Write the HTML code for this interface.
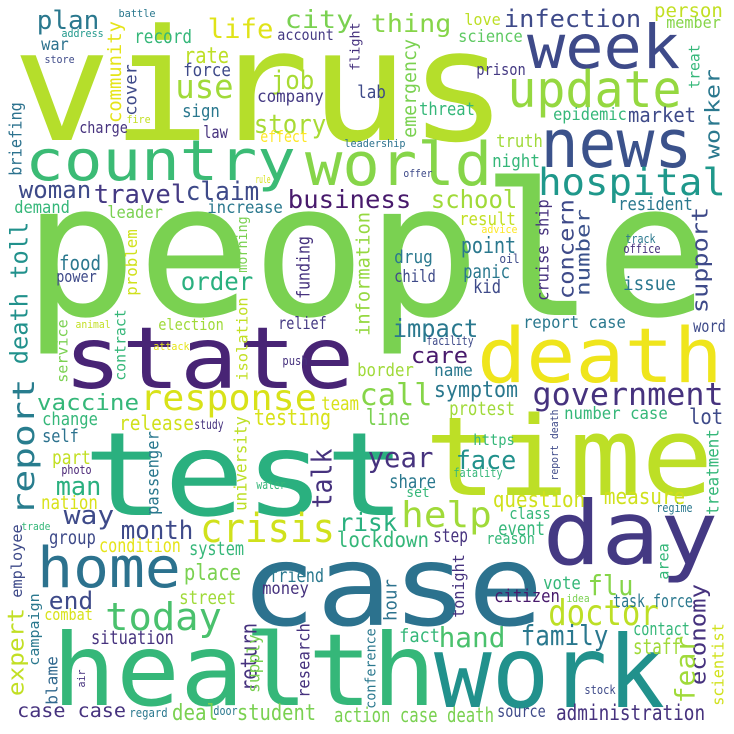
<!DOCTYPE html>
<html><head><meta charset="utf-8"><title>Word cloud</title>
<style>
html,body{margin:0;padding:0;background:#fff;}
svg{display:block;}
text{font-family:"DejaVu Sans Mono","Liberation Mono",monospace;}
</style></head>
<body>
<svg id="cloud" width="734" height="734" viewBox="0 0 734 734" xmlns="http://www.w3.org/2000/svg">
<rect width="734" height="734" fill="#ffffff"/>
</svg>
<script>
// Horizontal words: [word, left, baseline, width, fontSize, color]
const hWords = [
["virus",20,140,480,155,"#b5de2b"],["people",32,315,668,185,"#7ad151"],["test",89,515,311,116,"#2ab07f"],
["time",430,495,278,110,"#bddf26"],["case",246,625,292,112,"#2c728e"],["health",57,705,374,100,"#35b779"],
["work",439,707,221,100,"#21918c"],["state",68,388,282,86,"#482475"],["death",481,382,238,76,"#efe51c"],
["day",547,564,167,88,"#443983"],["country",28,180,265,56,"#3bbb75"],["world",308,185,181,60,"#86d549"],
["week",530,68,147,61,"#3e4a89"],["news",544,167,145,67,"#3b528b"],["update",510,107,169,51,"#95d840"],
["home",40,587,138,56,"#2c728e"],["hospital",540,195,184,37,"#1f988b"],["response",142,410,173,36,"#d8e219"],
["crisis",202,542,131,40,"#d0e11c"],["today",107,630,113,38,"#4ac16d"],["doctor",550,625,107,36,"#bddf26"],
["government",534,405,188,31,"#46327e"],["help",403,527,87,36,"#a0da39"],["call",361,405,70,30,"#86d549"],
["plan",38,29,60,26,"#2a788e"],["battle",119,17,36,11,"#2a788e"],["address",62,37,41,11,"#1f988b"],
["war",42,50,26,17,"#2c728e"],["store",45,63,29,11,"#3e4a89"],["life",209,38,63,27,"#e0e318"],
["city",286,28,66,25,"#7ad151"],["account",278,40,55,15,"#443983"],["record",135,43,56,19,"#35b779"],
["rate",185,63,43,22,"#bddf26"],["force",184,76,46,18,"#3e4a89"],["use",177,98,55,33,"#a0da39"],
["job",272,89,41,26,"#a8db34"],["company",258,102,65,17,"#443983"],["sign",183,117,36,18,"#2a788e"],
["story",255,133,70,26,"#a8db34"],["charge",80,133,47,16,"#46327e"],["fire",127,123,23,11,"#c2df23"],
["law",204,138,23,17,"#46327e"],["effect",261,142,46,16,"#fde725"],["leadership",345,147,60,11,"#2c728e"],
["rule",256,183,14,11,"#d8e219"],["woman",20,198,70,24,"#3e4a89"],["travel",95,203,90,26,"#443983"],
["claim",187,200,71,26,"#3e4a89"],["business",289,208,121,25,"#481a6c"],["demand",15,213,54,17,"#35b779"],
["leader",108,218,54,17,"#7ad151"],["increase",208,213,74,17,"#2a788e"],["food",60,270,40,20,"#2a788e"],
["power",57,282,39,16,"#3e4a89"],["order",182,290,70,25,"#2ab07f"],["animal",76,328,34,11,"#c2df23"],
["election",159,330,64,16,"#a0da39"],["relief",279,329,47,17,"#443983"],["attack",154,350,35,11,"#e5e419"],
["push",283,365,24,12,"#46327e"],["thing",372,32,78,25,"#86d549"],["infection",505,27,135,24,"#3e4a89"],
["love",465,25,35,16,"#bddf26"],["person",655,17,67,19,"#c2df23"],["member",667,28,53,16,"#86d549"],
["science",459,42,63,17,"#5ec962"],["threat",420,115,54,18,"#35b779"],["prison",477,75,48,16,"#443983"],
["epidemic",554,120,72,17,"#35b779"],["market",629,122,66,20,"#3e4a89"],["truth",497,147,45,18,"#a0da39"],
["night",493,167,46,18,"#35b779"],["offer",404,177,28,11,"#3e4a89"],["lab",358,98,27,18,"#3e4a89"],
["school",432,208,84,25,"#a0da39"],["resident",619,210,73,18,"#2a788e"],["result",460,225,55,18,"#c2df23"],
["advice",482,233,35,11,"#fde725"],["point",462,253,53,22,"#2a788e"],["drug",395,263,37,18,"#2a788e"],
["child",395,282,40,17,"#3e4a89"],["oil",500,263,19,12,"#3e4a89"],["track",626,243,29,12,"#2a788e"],
["office",624,253,36,12,"#46327e"],["panic",464,278,45,19,"#2a788e"],["kid",474,293,26,19,"#3e4a89"],
["issue",624,290,51,19,"#2a788e"],["impact",394,337,83,25,"#2a788e"],["report case",524,328,101,17,"#2a788e"],
["word",694,332,31,17,"#3e4a89"],["facility",427,345,46,12,"#3e4a89"],["care",412,363,55,22,"#481a6c"],
["vaccine",38,410,100,22,"#35b779"],["team",322,410,36,19,"#d8e219"],["change",43,425,54,18,"#35b779"],
["release",120,430,73,20,"#d0e11c"],["study",195,429,28,13,"#46327e"],["testing",255,425,75,22,"#d8e219"],
["self",43,442,35,18,"#2c728e"],["part",53,464,37,19,"#c2df23"],["photo",62,474,29,12,"#482475"],
["man",57,495,43,26,"#2ab07f"],["water",257,489,28,12,"#35b779"],["nation",42,509,55,19,"#d8e219"],
["way",65,524,48,26,"#3e4a89"],["month",122,539,70,26,"#3e4a89"],["trade",22,530,28,11,"#35b779"],
["group",50,544,45,19,"#3e4a89"],["condition",100,552,80,19,"#e5e419"],["system",190,555,53,19,"#35b779"],
["place",185,580,55,22,"#7ad151"],["friend",270,582,53,19,"#2a788e"],["money",263,594,45,17,"#46327e"],
["end",50,609,42,24,"#3e4a89"],["street",180,604,55,19,"#a0da39"],["combat",45,620,47,16,"#d8e219"],
["situation",92,644,81,19,"#46327e"],["case case",18,717,107,19,"#46327e"],["regard",130,717,37,12,"#2a788e"],
["deal",173,720,44,22,"#7ad151"],["door",214,715,23,12,"#2a788e"],["student",238,720,77,22,"#7ad151"],
["action case death",335,722,158,20,"#7ad151"],["border",358,376,55,18,"#a0da39"],["name",435,376,37,17,"#2a788e"],
["symptom",435,397,82,22,"#2a788e"],["protest",450,415,64,19,"#a0da39"],["number case",565,419,102,17,"#35b779"],
["lot",690,424,32,21,"#3e4a89"],["line",367,425,42,22,"#7ad151"],["year",369,467,63,28,"#46327e"],
["face",457,469,58,26,"#21918c"],["https",474,445,40,15,"#35b779"],["fatality",454,477,48,12,"#35b779"],
["share",390,488,45,19,"#2a788e"],["set",407,497,22,14,"#35b779"],["question",494,507,90,22,"#d0e11c"],
["measure",605,504,79,22,"#d0e11c"],["regime",657,512,35,12,"#2a788e"],["class",510,519,40,16,"#35b779"],
["risk",340,531,56,25,"#2ab07f"],["event",499,535,45,19,"#35b779"],["step",434,542,33,19,"#46327e"],
["reason",487,544,47,16,"#35b779"],["lockdown",338,547,90,21,"#35b779"],["vote",544,589,36,18,"#35b779"],
["flu",589,595,43,28,"#86d549"],["citizen",495,602,64,18,"#481a6c"],["idea",567,602,22,11,"#7ad151"],
["task force",614,607,78,18,"#2a788e"],["hand",440,647,64,28,"#4ac16d"],["family",522,645,85,28,"#2a788e"],
["fact",400,642,39,19,"#35b779"],["contact",634,635,55,18,"#35b779"],["staff",634,654,46,21,"#a0da39"],
["stock",585,694,30,12,"#3e4a89"],["source",498,717,47,17,"#3e4a89"],["administration",557,720,147,21,"#46327e"]
];
// Vertical words (read bottom-to-top): [word, bandLeft, bandRight, top, bottom, fontSize, color]
const vWords = [
["community",110,125,22,122,19,"#e5e419"],["flight",350,362,23,70,13,"#46327e"],["cover",125,137,65,115,17,"#3e4a89"],
["briefing",12,25,103,175,17,"#2c728e"],["death toll",10,28,223,363,24,"#21918c"],["morning",238,250,217,272,14,"#7ad151"],
["problem",128,140,230,295,16,"#d0e11c"],["funding",297,313,237,298,18,"#46327e"],["information",355,370,213,335,19,"#95d840"],
["service",57,68,320,382,15,"#7ad151"],["contract",113,126,310,380,15,"#35b779"],["isolation",236,248,298,380,15,"#c2df23"],
["emergency",404,420,40,137,19,"#7ad151"],["treat",689,700,45,88,15,"#35b779"],["worker",705,720,70,158,20,"#2a788e"],
["cruise ship",540,552,200,300,17,"#46327e"],["concern",557,574,200,298,21,"#3e4a89"],["number",577,590,210,295,19,"#3b528b"],
["support",695,712,208,312,22,"#3e4a89"],["report",15,40,380,514,30,"#287d8e"],["passenger",148,162,432,514,17,"#2a788e"],
["university",237,250,417,510,17,"#bddf26"],["talk",310,332,450,507,28,"#46327e"],["employee",13,25,525,597,15,"#3e4a89"],
["expert",13,28,609,695,22,"#c2df23"],["campaign",30,42,594,665,14,"#2a788e"],["return",238,257,624,690,22,"#46327e"],
["supply",250,263,635,692,17,"#7ad151"],["research",298,310,624,697,17,"#46327e"],["blame",47,58,657,704,16,"#31688e"],
["air",78,85,670,687,11,"#46327e"],["report death",552,560,410,480,11,"#3e4a89"],["treatment",705,719,430,514,17,"#35b779"],
["area",659,669,544,579,15,"#35b779"],["tonight",455,467,555,617,16,"#46327e"],["hour",385,397,580,620,18,"#2c728e"],
["economy",695,710,585,684,22,"#46327e"],["fear",674,695,637,702,27,"#a0da39"],["scientist",712,724,624,705,16,"#d0e11c"],
["conference",366,376,629,708,14,"#2a788e"]
];
const NS = "http://www.w3.org/2000/svg";
const svg = document.getElementById("cloud");
function slug(w){return "word-" + w.replace(/\s+/g,"-");}
hWords.forEach(function(r){
  const t = document.createElementNS(NS,"text");
  const fs = r[4];
  t.setAttribute("x", (r[1] - 0.05*fs).toFixed(1));
  t.setAttribute("y", r[2]);
  t.setAttribute("font-size", fs);
  t.setAttribute("fill", r[5]);
  t.setAttribute("textLength", (r[3] + 0.1*fs).toFixed(1));
  t.setAttribute("lengthAdjust", "spacingAndGlyphs");
  t.textContent = r[0];
  
  
  svg.appendChild(t);
});
vWords.forEach(function(r){
  const t = document.createElementNS(NS,"text");
  const fs = r[5];
  const hasDesc = /[gjpqy]/.test(r[0]);
  const bx = r[2] - (hasDesc ? 0.2*fs : 0.02*fs);
  const by = r[4] + 0.05*fs;
  t.setAttribute("transform", "translate(" + bx.toFixed(1) + "," + by.toFixed(1) + ") rotate(-90)");
  t.setAttribute("x", 0);
  t.setAttribute("y", 0);
  t.setAttribute("font-size", fs);
  t.setAttribute("fill", r[6]);
  t.setAttribute("textLength", ((r[4]-r[3]) + 0.1*fs).toFixed(1));
  t.setAttribute("lengthAdjust", "spacingAndGlyphs");
  t.textContent = r[0];
  
  
  svg.appendChild(t);
});
</script>
</body></html>
